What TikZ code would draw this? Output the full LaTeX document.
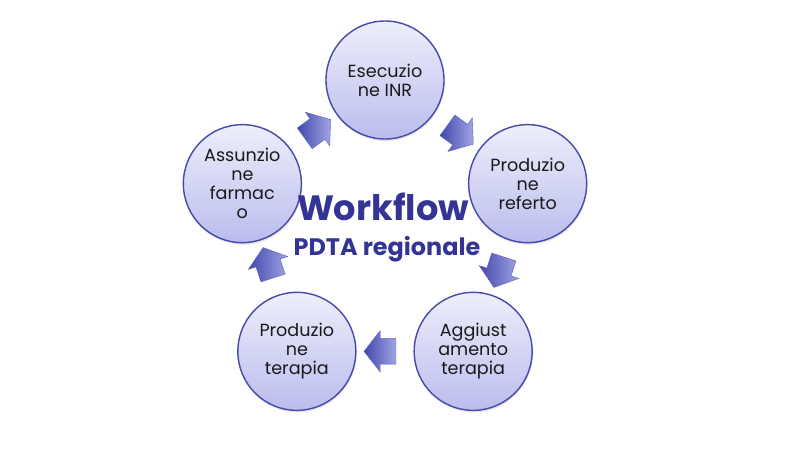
\documentclass[tikz,border=0pt]{standalone}
\usepackage{fontspec}
\setmainfont{Poppins}
\usepackage{tikz}
\usetikzlibrary{calc,shapes.arrows,shadows}
\definecolor{wfdark}{RGB}{52,52,150}
\definecolor{wfedge}{RGB}{70,74,168}
\definecolor{wflight}{RGB}{238,238,251}
\definecolor{wfmid}{RGB}{186,189,237}
\definecolor{wfarrowdark}{RGB}{66,71,172}
\definecolor{wfarrowlight}{RGB}{160,164,228}
\tikzset{
  phase/.style={circle, draw=wfedge, line width=1pt, minimum size=2.95cm,
    top color=wflight, bottom color=wfmid, align=center, text=black!90,
    font=\fontsize{12.5}{13.5}\selectfont,
    drop shadow={opacity=0.2, shadow xshift=0.5pt, shadow yshift=-1.5pt}},
  flow/.style={single arrow, minimum height=0.8cm, minimum width=1.025cm,
    single arrow head extend=0.2cm, single arrow tip angle=104,
    inner xsep=0pt, inner ysep=0.3125cm, rotate=#1,
    left color=wfarrowdark, right color=wfarrowlight,
    draw=wfarrowdark!85, line width=0.3pt}
}
\begin{document}
\begin{tikzpicture}
  \useasboundingbox[fill=white] (0,0) rectangle (20,11.25);
  \begin{scope}[shift={(9.625,5.5)}]
    % The five phases
    \node[phase] (ese) at (90:3.75) {Esecuzio\\ne INR};
    \node[phase] (ref) at (18:3.75) {Produzio\\ne\\referto};
    \node[phase] (agg) at (-54:3.75) {Aggiust\\amento\\terapia};
    \node[phase] (ter) at (-126:3.75) {Produzio\\ne\\terapia};
    \node[phase] (ass) at (162:3.75) {Assunzio\\ne\\farmac\\o};

    % Block arrows between the phases
    \node[flow=-36] (f1) at ($(ese)!0.5!(ref)$) {};
    \node[flow=-108] (f2) at ($(ref)!0.5!(agg)$) {};
    \node[flow=180] (f3) at ($(agg)!0.5!(ter)$) {};
    \node[flow=108] (f4) at ($(ter)!0.5!(ass)$) {};
    \node[flow=36] (f5) at ($(ass)!0.5!(ese)$) {};

    % Title in the middle
    \node[anchor=base, text=wfdark, font=\bfseries\fontsize{25}{28}\selectfont] (title) at (-0.05,0.25) {Workflow};
    \node[anchor=base, text=wfdark, font=\bfseries\fontsize{17}{20}\selectfont] (sub) at (0.05,-0.625) {PDTA regionale};
  \end{scope}
\end{tikzpicture}
\end{document}
